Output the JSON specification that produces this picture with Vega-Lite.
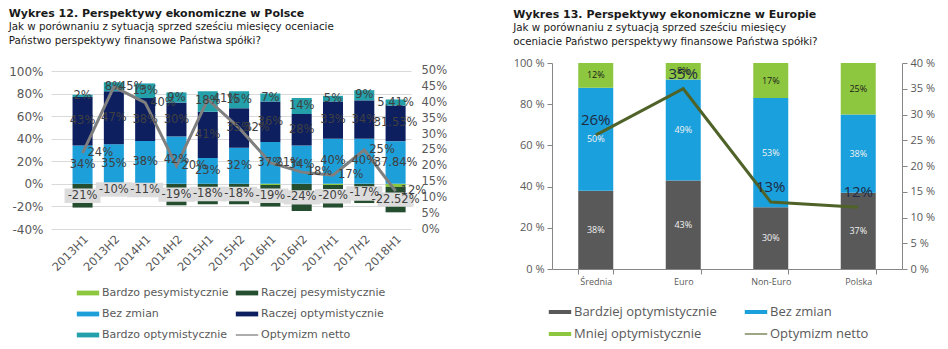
{
  "$schema": "https://vega.github.io/schema/vega-lite/v6.json",
  "background": "#ffffff",
  "padding": {"left": 8, "top": 7, "right": 4, "bottom": 4},
  "spacing": 66,
  "config": {
    "font": "DejaVu Sans",
    "view": {"stroke": null},
    "locale": {"number": {"decimal": ".", "thousands": ",", "grouping": [3], "currency": ["", ""], "minus": "-"}},
    "title": {"anchor": "start", "fontSize": 11, "fontWeight": "bold", "color": "#1a1a1a", "subtitleFontSize": 10.3, "subtitleColor": "#1a1a1a", "subtitlePadding": 3, "subtitleLineHeight": 14}
  },
  "resolve": {"scale": {"color": "independent"}, "legend": {"color": "independent"}},
  "datasets": {
    "pl": [
      {"okres": "2013H1", "seria": "Bardzo pesymistycznie", "wartosc": 0},
      {"okres": "2013H1", "seria": "Raczej pesymistycznie", "wartosc": -0.21},
      {"okres": "2013H1", "seria": "Bez zmian", "wartosc": 0.34},
      {"okres": "2013H1", "seria": "Raczej optymistycznie", "wartosc": 0.43},
      {"okres": "2013H1", "seria": "Bardzo optymistycznie", "wartosc": 0.02},
      {"okres": "2013H2", "seria": "Bardzo pesymistycznie", "wartosc": 0},
      {"okres": "2013H2", "seria": "Raczej pesymistycznie", "wartosc": -0.10},
      {"okres": "2013H2", "seria": "Bez zmian", "wartosc": 0.35},
      {"okres": "2013H2", "seria": "Raczej optymistycznie", "wartosc": 0.47},
      {"okres": "2013H2", "seria": "Bardzo optymistycznie", "wartosc": 0.08},
      {"okres": "2014H1", "seria": "Bardzo pesymistycznie", "wartosc": 0},
      {"okres": "2014H1", "seria": "Raczej pesymistycznie", "wartosc": -0.11},
      {"okres": "2014H1", "seria": "Bez zmian", "wartosc": 0.38},
      {"okres": "2014H1", "seria": "Raczej optymistycznie", "wartosc": 0.38},
      {"okres": "2014H1", "seria": "Bardzo optymistycznie", "wartosc": 0.13},
      {"okres": "2014H2", "seria": "Bardzo pesymistycznie", "wartosc": 0},
      {"okres": "2014H2", "seria": "Raczej pesymistycznie", "wartosc": -0.19},
      {"okres": "2014H2", "seria": "Bez zmian", "wartosc": 0.42},
      {"okres": "2014H2", "seria": "Raczej optymistycznie", "wartosc": 0.30},
      {"okres": "2014H2", "seria": "Bardzo optymistycznie", "wartosc": 0.09},
      {"okres": "2015H1", "seria": "Bardzo pesymistycznie", "wartosc": 0},
      {"okres": "2015H1", "seria": "Raczej pesymistycznie", "wartosc": -0.18},
      {"okres": "2015H1", "seria": "Bez zmian", "wartosc": 0.23},
      {"okres": "2015H1", "seria": "Raczej optymistycznie", "wartosc": 0.41},
      {"okres": "2015H1", "seria": "Bardzo optymistycznie", "wartosc": 0.18},
      {"okres": "2015H2", "seria": "Bardzo pesymistycznie", "wartosc": 0},
      {"okres": "2015H2", "seria": "Raczej pesymistycznie", "wartosc": -0.18},
      {"okres": "2015H2", "seria": "Bez zmian", "wartosc": 0.32},
      {"okres": "2015H2", "seria": "Raczej optymistycznie", "wartosc": 0.35},
      {"okres": "2015H2", "seria": "Bardzo optymistycznie", "wartosc": 0.15},
      {"okres": "2016H1", "seria": "Bardzo pesymistycznie", "wartosc": -0.01},
      {"okres": "2016H1", "seria": "Raczej pesymistycznie", "wartosc": -0.19},
      {"okres": "2016H1", "seria": "Bez zmian", "wartosc": 0.37},
      {"okres": "2016H1", "seria": "Raczej optymistycznie", "wartosc": 0.36},
      {"okres": "2016H1", "seria": "Bardzo optymistycznie", "wartosc": 0.07},
      {"okres": "2016H2", "seria": "Bardzo pesymistycznie", "wartosc": 0},
      {"okres": "2016H2", "seria": "Raczej pesymistycznie", "wartosc": -0.24},
      {"okres": "2016H2", "seria": "Bez zmian", "wartosc": 0.34},
      {"okres": "2016H2", "seria": "Raczej optymistycznie", "wartosc": 0.28},
      {"okres": "2016H2", "seria": "Bardzo optymistycznie", "wartosc": 0.14},
      {"okres": "2017H1", "seria": "Bardzo pesymistycznie", "wartosc": -0.01},
      {"okres": "2017H1", "seria": "Raczej pesymistycznie", "wartosc": -0.20},
      {"okres": "2017H1", "seria": "Bez zmian", "wartosc": 0.40},
      {"okres": "2017H1", "seria": "Raczej optymistycznie", "wartosc": 0.33},
      {"okres": "2017H1", "seria": "Bardzo optymistycznie", "wartosc": 0.05},
      {"okres": "2017H2", "seria": "Bardzo pesymistycznie", "wartosc": 0},
      {"okres": "2017H2", "seria": "Raczej pesymistycznie", "wartosc": -0.17},
      {"okres": "2017H2", "seria": "Bez zmian", "wartosc": 0.40},
      {"okres": "2017H2", "seria": "Raczej optymistycznie", "wartosc": 0.34},
      {"okres": "2017H2", "seria": "Bardzo optymistycznie", "wartosc": 0.09},
      {"okres": "2018H1", "seria": "Bardzo pesymistycznie", "wartosc": -0.027},
      {"okres": "2018H1", "seria": "Raczej pesymistycznie", "wartosc": -0.2252},
      {"okres": "2018H1", "seria": "Bez zmian", "wartosc": 0.3784},
      {"okres": "2018H1", "seria": "Raczej optymistycznie", "wartosc": 0.3153},
      {"okres": "2018H1", "seria": "Bardzo optymistycznie", "wartosc": 0.0541}
    ],
    "plnet": [
      {"okres": "2013H1", "wartosc": 0.24},
      {"okres": "2013H2", "wartosc": 0.45},
      {"okres": "2014H1", "wartosc": 0.40},
      {"okres": "2014H2", "wartosc": 0.20},
      {"okres": "2015H1", "wartosc": 0.41},
      {"okres": "2015H2", "wartosc": 0.32},
      {"okres": "2016H1", "wartosc": 0.21},
      {"okres": "2016H2", "wartosc": 0.18},
      {"okres": "2017H1", "wartosc": 0.17},
      {"okres": "2017H2", "wartosc": 0.25},
      {"okres": "2018H1", "wartosc": 0.12}
    ],
    "eu": [
      {"kategoria": "Średnia", "seria": "Bardziej optymistycznie", "wartosc": 0.38},
      {"kategoria": "Średnia", "seria": "Bez zmian", "wartosc": 0.50},
      {"kategoria": "Średnia", "seria": "Mniej optymistycznie", "wartosc": 0.12},
      {"kategoria": "Euro", "seria": "Bardziej optymistycznie", "wartosc": 0.43},
      {"kategoria": "Euro", "seria": "Bez zmian", "wartosc": 0.49},
      {"kategoria": "Euro", "seria": "Mniej optymistycznie", "wartosc": 0.08},
      {"kategoria": "Non-Euro", "seria": "Bardziej optymistycznie", "wartosc": 0.30},
      {"kategoria": "Non-Euro", "seria": "Bez zmian", "wartosc": 0.53},
      {"kategoria": "Non-Euro", "seria": "Mniej optymistycznie", "wartosc": 0.17},
      {"kategoria": "Polska", "seria": "Bardziej optymistycznie", "wartosc": 0.37},
      {"kategoria": "Polska", "seria": "Bez zmian", "wartosc": 0.38},
      {"kategoria": "Polska", "seria": "Mniej optymistycznie", "wartosc": 0.25}
    ],
    "eunet": [
      {"kategoria": "Średnia", "wartosc": 0.26},
      {"kategoria": "Euro", "wartosc": 0.35},
      {"kategoria": "Non-Euro", "wartosc": 0.13},
      {"kategoria": "Polska", "wartosc": 0.12}
    ]
  },
  "hconcat": [
    {
      "title": {"text": "Wykres 12. Perspektywy ekonomiczne w  Polsce", "subtitle": ["Jak w porównaniu z sytuacją sprzed sześciu miesięcy oceniacie", "Państwo perspektywy finansowe Państwa spółki?"], "offset": 17},
      "width": 360,
      "height": 166,
      "resolve": {"scale": {"y": "independent"}},
      "layer": [
        {
          "data": {"name": "pl"},
          "transform": [
            {"calculate": "indexof(['Bardzo pesymistycznie','Raczej pesymistycznie','Bez zmian','Raczej optymistycznie','Bardzo optymistycznie'], datum.seria)", "as": "idx"},
            {"stack": "wartosc", "groupby": ["okres"], "sort": [{"field": "idx", "order": "ascending"}], "as": ["v0", "v1"]}
          ],
          "mark": {"type": "bar"},
          "encoding": {
            "x": {"field": "okres", "type": "nominal", "sort": null,
              "scale": {"paddingInner": 0.36, "paddingOuter": 0.43, "align": 0.8},
              "axis": {"title": null, "labelAngle": -45, "labelFontSize": 11.5, "labelColor": "#595959", "ticks": false, "domain": false, "labelPadding": 4}},
            "y": {"field": "v0", "type": "quantitative", "scale": {"domain": [-0.4, 1.0709], "nice": false, "zero": false},
              "axis": {"title": null, "values": [-0.4, -0.2, 0, 0.2, 0.4, 0.6, 0.8, 1], "format": ".0%", "grid": true, "gridColor": "#d9d9d9", "domain": false, "ticks": false, "labelFontSize": 12, "labelColor": "#595959", "labelPadding": 8}},
            "y2": {"field": "v1"},
            "color": {"field": "seria", "type": "nominal",
              "scale": {"domain": ["Bardzo pesymistycznie", "Raczej pesymistycznie", "Bez zmian", "Raczej optymistycznie", "Bardzo optymistycznie", "Optymizm netto"],
                "range": ["#8dc63f", "#254e31", "#1d9fd9", "#0d1f5f", "#23a0aa", "#7f7f7f"]},
              "legend": {"title": null, "orient": "bottom", "columns": 2, "symbolType": "M-1.4,-0.3H1.4V0.3H-1.4Z", "symbolSize": 256, "symbolStrokeWidth": 0,
                "labelFontSize": 11, "labelColor": "#595959", "labelOffset": 6, "columnPadding": 6, "rowPadding": 8, "offset": -18, "padding": 29,
                "encode": {"symbols": {"update": {"shape": {"signal": "datum.value === 'Optymizm netto' ? 'M-1.4,-0.08H1.4V0.08H-1.4Z' : 'M-1.4,-0.3H1.4V0.3H-1.4Z'"}}}}}}
          }
        },
        {
          "data": {"name": "plnet"},
          "mark": {"type": "line", "color": "#7f7f7f", "strokeWidth": 3},
          "encoding": {
            "x": {"field": "okres", "type": "nominal", "sort": null},
            "y": {"field": "wartosc", "type": "quantitative", "scale": {"domain": [0, 0.5253], "nice": false},
              "axis": {"orient": "right", "title": null, "values": [0, 0.05, 0.1, 0.15, 0.2, 0.25, 0.3, 0.35, 0.4, 0.45, 0.5], "format": ".0%", "grid": false, "domain": false, "ticks": false, "labelFontSize": 11.5, "labelColor": "#595959", "labelPadding": 10}}
          }
        },
        {
          "data": {"name": "pl"},
          "transform": [
            {"calculate": "indexof(['Bardzo pesymistycznie','Raczej pesymistycznie','Bez zmian','Raczej optymistycznie','Bardzo optymistycznie'], datum.seria)", "as": "idx"},
            {"stack": "wartosc", "groupby": ["okres"], "sort": [{"field": "idx", "order": "ascending"}], "as": ["v0", "v1"]},
            {"calculate": "(datum.v0 + datum.v1) / 2", "as": "mid"},
            {"filter": "datum.seria === 'Raczej pesymistycznie'"}
          ],
          "mark": {"type": "point", "shape": "M-1,-0.4H1V0.4H-1Z", "size": 1296, "filled": true, "color": "#dcdcdc", "opacity": 1},
          "encoding": {
            "x": {"field": "okres", "type": "nominal", "sort": null},
            "y": {"field": "mid", "type": "quantitative", "scale": {"domain": [-0.4, 1.0709], "nice": false, "zero": false}, "axis": null}
          }
        },
        {
          "data": {"name": "pl"},
          "transform": [
            {"calculate": "indexof(['Bardzo pesymistycznie','Raczej pesymistycznie','Bez zmian','Raczej optymistycznie','Bardzo optymistycznie'], datum.seria)", "as": "idx"},
            {"stack": "wartosc", "groupby": ["okres"], "sort": [{"field": "idx", "order": "ascending"}], "as": ["v0", "v1"]},
            {"calculate": "(datum.v0 + datum.v1) / 2", "as": "mid"},
            {"filter": "datum.seria !== 'Bardzo pesymistycznie'"}
          ],
          "mark": {"type": "text", "fontSize": 11.5, "color": "#404040"},
          "encoding": {
            "x": {"field": "okres", "type": "nominal", "sort": null},
            "y": {"field": "mid", "type": "quantitative", "scale": {"domain": [-0.4, 1.0709], "nice": false, "zero": false}, "axis": null},
            "text": {"field": "wartosc", "type": "quantitative", "format": ".2~%"}
          }
        },
        {
          "data": {"name": "plnet"},
          "mark": {"type": "text", "align": "left", "dx": 5, "fontSize": 11.5, "color": "#404040"},
          "encoding": {
            "x": {"field": "okres", "type": "nominal", "sort": null},
            "y": {"field": "wartosc", "type": "quantitative", "scale": {"domain": [0, 0.5253], "nice": false}, "axis": null},
            "text": {"field": "wartosc", "type": "quantitative", "format": ".0%"}
          }
        }
      ]
    },
    {
      "title": {"text": "Wykres 13. Perspektywy ekonomiczne w Europie", "subtitle": ["Jak w porównaniu z sytuacją sprzed sześciu miesięcy", "oceniacie Państwo perspektywy finansowe Państwa spółki?"], "offset": 10},
      "width": 350,
      "height": 206,
      "resolve": {"scale": {"y": "independent"}},
      "layer": [
        {
          "data": {"name": "eu"},
          "transform": [
            {"calculate": "indexof(['Bardziej optymistycznie','Bez zmian','Mniej optymistycznie'], datum.seria)", "as": "idx"},
            {"stack": "wartosc", "groupby": ["kategoria"], "sort": [{"field": "idx", "order": "ascending"}], "as": ["v0", "v1"]}
          ],
          "mark": {"type": "bar"},
          "encoding": {
            "x": {"field": "kategoria", "type": "nominal", "sort": null,
              "scale": {"paddingInner": 0.6, "paddingOuter": 0.3},
              "axis": {"title": null, "labelAngle": 0, "labelFont": "Open Sans", "labelFontSize": 9, "labelColor": "#595959", "ticks": true, "tickBand": "extent", "tickColor": "#868686", "tickSize": 5, "domain": true, "domainColor": "#868686", "labelPadding": 3}},
            "y": {"field": "v0", "type": "quantitative", "scale": {"domain": [0, 1], "nice": false},
              "axis": {"title": null, "values": [0, 0.2, 0.4, 0.6, 0.8, 1], "format": ".0%", "labelExpr": "replace(datum.label, '%', ' %')", "grid": false, "domain": true, "domainColor": "#868686", "ticks": true, "tickColor": "#868686", "tickSize": 5, "labelFont": "Open Sans", "labelFontSize": 11, "labelColor": "#595959", "labelPadding": 3}},
            "y2": {"field": "v1"},
            "color": {"field": "seria", "type": "nominal",
              "scale": {"domain": ["Bardziej optymistycznie", "Bez zmian", "Mniej optymistycznie", "Optymizm netto"],
                "range": ["#595959", "#1aa0dc", "#8dc63f", "#4f6228"]},
              "legend": {"title": null, "orient": "bottom", "columns": 2, "symbolType": "M-1.4,-0.25H1.4V0.25H-1.4Z", "symbolSize": 256, "symbolStrokeWidth": 0,
                "labelFont": "Open Sans", "labelFontSize": 13, "labelColor": "#595959", "labelOffset": 6, "columnPadding": 27, "rowPadding": 7, "offset": 18,
                "encode": {"symbols": {"update": {"shape": {"signal": "datum.value === 'Optymizm netto' ? 'M-1.4,-0.07H1.4V0.07H-1.4Z' : 'M-1.4,-0.25H1.4V0.25H-1.4Z'"}}}}}}
          }
        },
        {
          "data": {"name": "eunet"},
          "mark": {"type": "line", "color": "#4f6228", "strokeWidth": 3},
          "encoding": {
            "x": {"field": "kategoria", "type": "nominal", "sort": null},
            "y": {"field": "wartosc", "type": "quantitative", "scale": {"domain": [0, 0.4], "nice": false},
              "axis": {"orient": "right", "title": null, "values": [0, 0.05, 0.1, 0.15, 0.2, 0.25, 0.3, 0.35, 0.4], "format": ".0%", "labelExpr": "replace(datum.label, '%', ' %')", "grid": false, "domain": true, "domainColor": "#868686", "ticks": true, "tickColor": "#868686", "tickSize": 5, "labelFont": "Open Sans", "labelFontSize": 11, "labelColor": "#595959", "labelPadding": 3}}
          }
        },
        {
          "data": {"name": "eu"},
          "transform": [
            {"calculate": "indexof(['Bardziej optymistycznie','Bez zmian','Mniej optymistycznie'], datum.seria)", "as": "idx"},
            {"stack": "wartosc", "groupby": ["kategoria"], "sort": [{"field": "idx", "order": "ascending"}], "as": ["v0", "v1"]},
            {"calculate": "(datum.v0 + datum.v1) / 2", "as": "mid"}
          ],
          "mark": {"type": "text", "font": "Open Sans", "fontSize": 9},
          "encoding": {
            "x": {"field": "kategoria", "type": "nominal", "sort": null},
            "y": {"field": "mid", "type": "quantitative", "scale": {"domain": [0, 1], "nice": false}, "axis": null},
            "text": {"field": "wartosc", "type": "quantitative", "format": ".0%"},
            "color": {"condition": {"test": "datum.seria === 'Mniej optymistycznie'", "value": "#1a1a1a"}, "value": "#f2f2f2"}
          }
        },
        {
          "data": {"name": "eunet"},
          "mark": {"type": "text", "font": "Open Sans", "fontSize": 15, "dy": -15, "color": "#1f2a44"},
          "encoding": {
            "x": {"field": "kategoria", "type": "nominal", "sort": null},
            "y": {"field": "wartosc", "type": "quantitative", "scale": {"domain": [0, 0.4], "nice": false}, "axis": null},
            "text": {"field": "wartosc", "type": "quantitative", "format": ".0%"}
          }
        }
      ]
    }
  ]
}
